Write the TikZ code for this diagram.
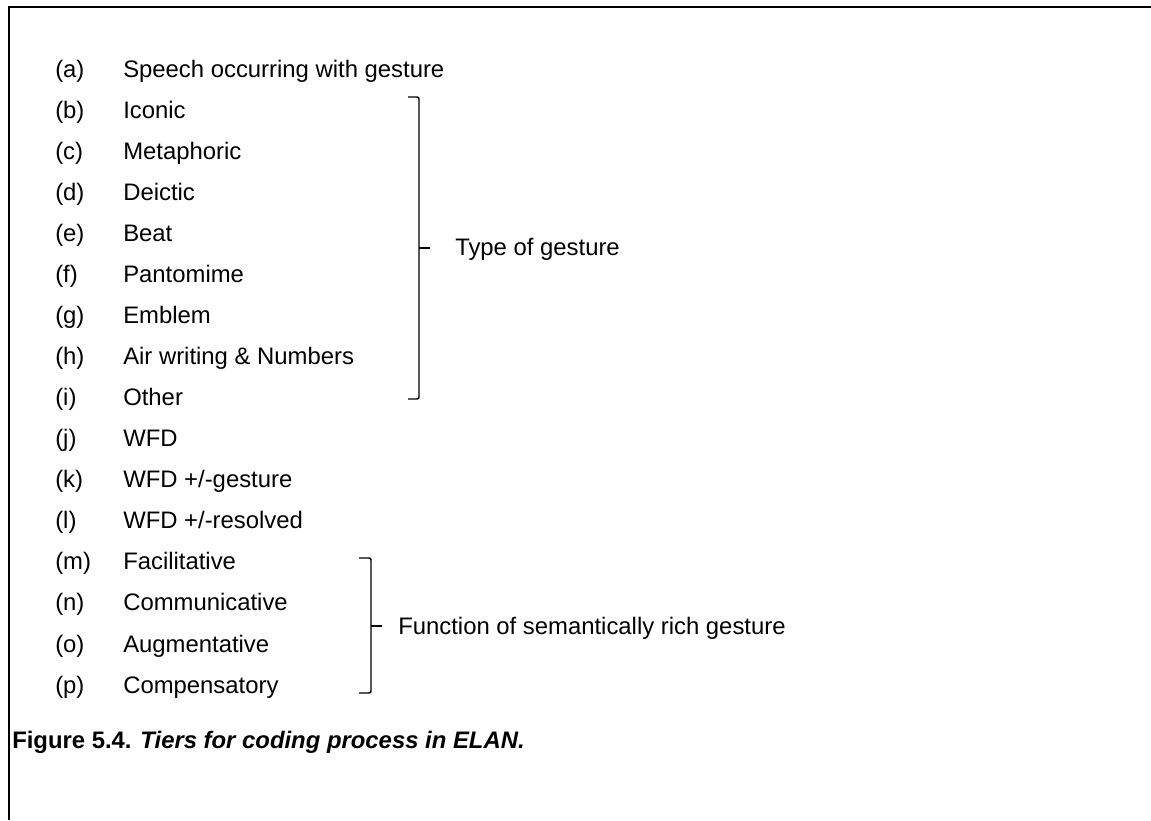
\documentclass[tikz,border=0pt]{standalone}
\usepackage{fontspec}
\setmainfont{Liberation Sans}
\begin{document}
\begin{tikzpicture}[x=0.75pt,y=-0.75pt,
  lbl/.style={anchor=mid west,inner sep=0pt,font=\fontsize{17.9}{21}\selectfont},
  txt/.style={anchor=mid west,inner sep=0pt,font=\fontsize{17.9}{21}\selectfont},
  brk/.style={line width=1.1pt,rounded corners=1.5pt},
  frame/.style={line width=1.3pt}]
\useasboundingbox (0,0) rectangle (1151,820);
\draw[frame] (9,820) -- (9,7) -- (1151,7);
\foreach \l/\t [count=\i from 0] in {a/{Speech occurring with gesture},b/{Iconic},c/{Metaphoric},d/{Deictic},e/{Beat},f/{Pantomime},g/{Emblem},h/{Air writing \& Numbers},i/{Other},j/{WFD},k/{WFD +{/}-gesture},l/{WFD +{/}-resolved},m/{Facilitative},n/{Communicative},o/{Augmentative},p/{Compensatory}}{
  \node[lbl] (L\l) at (55,{73.5+41.07*\i}) {(\l)};
  \node[txt] (T\l) at (123,{73.5+41.07*\i}) {\t};
}
\draw[brk] (408,97) -- (419,97) -- (419,399) -- (408,399);
\coordinate (b1) at (419,248);
\draw[line width=1.1pt] (b1) -- ++(11,0);
\node[txt] (type) at (455,252) {Type of gesture};
\draw[brk] (359,558) -- (371,558) -- (371,693) -- (359,693);
\coordinate (b2) at (371,626);
\draw[line width=1.1pt] (b2) -- ++(11,0);
\node[txt] (func) at (398,630.5) {Function of semantically rich gesture};
\node[anchor=mid west,inner sep=0pt,font=\fontsize{17.9}{21}\selectfont\bfseries] (cap) at (12,744.5) {Figure 5.4. \textit{Tiers for coding process in ELAN.}};
\end{tikzpicture}
\end{document}
